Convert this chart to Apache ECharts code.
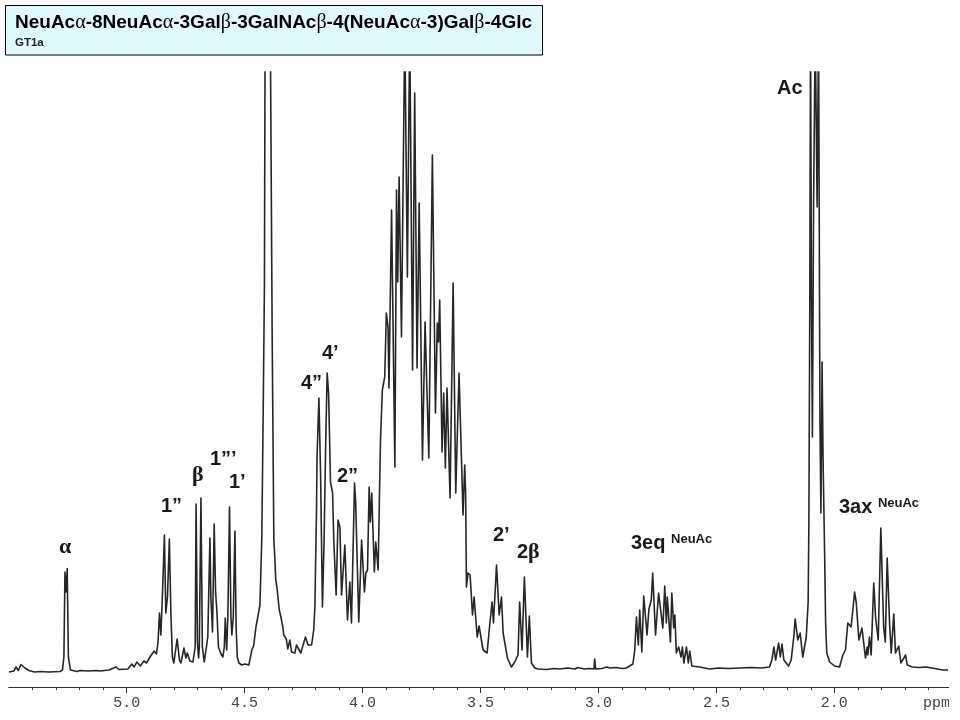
<!DOCTYPE html>
<html><head><meta charset="utf-8">
<style>html,body{margin:0;padding:0;background:#fff}#c{width:960px;height:720px}</style>
<script src="https://cdn.jsdelivr.net/npm/echarts@6/dist/echarts.min.js"></script>
</head><body><div id="c"></div>
<script>
// [chemical shift in ppm, signal height]; values above the axis maximum run off the top of the plot.
const baselineAndAlpha = [[5.499,15],[5.478,16],[5.469,20],[5.459,16.5],[5.448,22.5],[5.44,24],[5.431,19],[5.414,16.5],[5.39,15],[5.367,15.5],[5.33,15],[5.283,15.5],[5.272,17],[5.266,30],[5.2615,115],[5.257,95],[5.252,118.5],[5.247,30],[5.238,17],[5.21,15.5],[5.198,16.5],[5.16,16],[5.13,16.5],[5.113,16],[5.075,17],[5.045,20],[5.033,17.5],[4.995,18]];
const anomeric = [[4.978,23],[4.968,20],[4.957,25],[4.942,21],[4.927,26],[4.916,24],[4.901,30],[4.893,28],[4.884,36],[4.874,33],[4.867,45],[4.861,74],[4.855,52],[4.848,94],[4.84,152],[4.834,74],[4.827,90],[4.819,148],[4.812,70],[4.806,30],[4.8,24],[4.793,23],[4.786,48],[4.776,27],[4.77,24],[4.757,39],[4.749,29],[4.743,34],[4.732,26],[4.719,25],[4.711,24],[4.7095,40],[4.7056,183],[4.7,45],[4.695,29],[4.692,40],[4.685,189],[4.679,40],[4.671,25],[4.664,27],[4.656,50],[4.647,149],[4.643,90],[4.636,55],[4.629,163],[4.623,95],[4.617,74],[4.611,40],[4.6,33],[4.592,30],[4.586,40],[4.582,69],[4.576,37],[4.571,70],[4.564,180],[4.558,70],[4.554,52],[4.548,70],[4.541,156],[4.536,60],[4.531,30],[4.524,24],[4.512,22],[4.499,23],[4.482,22],[4.469,37],[4.461,42],[4.452,60],[4.444,70]];
const waterPeak = [[4.435,82],[4.427,150],[4.421,280],[4.416,400],[4.413,660],[4.391,660],[4.383,347],[4.376,147],[4.372,130],[4.368,107],[4.363,100],[4.353,77],[4.346,70],[4.338,60],[4.334,52],[4.323,48],[4.317,38],[4.308,47],[4.301,35],[4.287,34],[4.28,42],[4.262,34],[4.242,50],[4.231,42],[4.216,42],[4.207,57],[4.202,80]];
const ringProtons = [[4.195,180],[4.193,230],[4.185,289],[4.178,214],[4.17,80],[4.163,147],[4.156,247],[4.15,314],[4.144,294],[4.139,240],[4.136,205],[4.127,194],[4.122,147],[4.112,92],[4.104,167],[4.096,160],[4.089,92],[4.075,142],[4.064,67],[4.054,105],[4.047,64],[4.034,204],[4.029,184],[4.016,65],[4.004,147],[3.992,95],[3.986,114],[3.979,117],[3.972,200],[3.967,165],[3.961,194],[3.95,115],[3.944,145],[3.934,117],[3.924,247],[3.916,297],[3.906,310],[3.899,374],[3.892,360],[3.888,299],[3.877,477],[3.863,220],[3.856,497],[3.851,405],[3.845,510],[3.835,350],[3.821,660],[3.81,410],[3.8,660],[3.788,317],[3.779,594],[3.769,319],[3.76,484],[3.746,227],[3.735,365],[3.719,229],[3.704,532],[3.691,274],[3.683,364],[3.678,345],[3.673,387],[3.663,235],[3.656,294],[3.649,219],[3.642,299],[3.629,189],[3.616,404],[3.605,194],[3.591,314],[3.574,172],[3.567,222],[3.563,194]];
const upfieldRing = [[3.5596,100],[3.553,114],[3.544,112],[3.534,72],[3.527,90],[3.514,50],[3.506,61],[3.499,60],[3.489,37],[3.472,34],[3.461,62],[3.451,85],[3.445,64],[3.432,122],[3.421,72],[3.411,90],[3.404,54],[3.386,29],[3.369,20],[3.355,25],[3.341,32],[3.334,85],[3.324,37],[3.314,110],[3.301,30],[3.293,71],[3.284,24],[3.27,19],[3.256,18],[3.22,17.5],[3.19,18.5],[3.164,18],[3.13,19],[3.1,18],[3.088,19.5],[3.06,18],[3.04,18.5],[3.019,18],[3.016,28],[3.012,18],[2.985,18.5],[2.965,20],[2.952,19],[2.925,19.5],[2.9,18.5],[2.882,19]];
const eqRegion = [[2.854,23],[2.846,37],[2.839,70],[2.831,42],[2.825,77],[2.816,35],[2.808,91],[2.794,52],[2.786,78],[2.776,87],[2.77,114],[2.758,52],[2.745,94],[2.738,95],[2.727,59],[2.719,101],[2.712,64],[2.708,90],[2.695,45],[2.689,94],[2.681,59],[2.676,72],[2.67,34],[2.66,40],[2.65,30],[2.644,40],[2.638,24],[2.627,40],[2.619,24],[2.613,36],[2.604,21],[2.571,20],[2.529,18],[2.49,19],[2.45,18.5],[2.402,19],[2.35,19.5],[2.31,19],[2.275,20]];
const acetylRegion = [[2.265,27],[2.256,40],[2.249,27],[2.236,44],[2.229,30],[2.222,43],[2.214,27],[2.194,21],[2.183,27],[2.172,50],[2.166,68],[2.155,47],[2.145,54],[2.134,30],[2.119,50],[2.111,85],[2.108,164],[2.104,387],[2.101,660],[2.097,387],[2.093,250],[2.088,487],[2.081,660],[2.073,480],[2.067,660],[2.061,267],[2.057,174],[2.052,325],[2.048,230],[2.041,130],[2.037,64],[2.032,34],[2.02,25],[1.999,21],[1.978,20]];
const axRegion = [[1.964,32],[1.953,37],[1.943,64],[1.929,60],[1.914,95],[1.907,84],[1.896,47],[1.883,59],[1.868,29],[1.861,40],[1.858,32],[1.851,50],[1.844,32],[1.833,104],[1.825,69],[1.814,47],[1.803,159],[1.791,60],[1.784,45],[1.776,129],[1.766,64],[1.759,34],[1.748,73],[1.741,34],[1.727,41],[1.718,24],[1.698,32],[1.691,22],[1.669,20],[1.64,19.5],[1.611,20],[1.575,18.5],[1.54,17],[1.532,19],[1.518,17]];
const tickValues = [2, 2.5, 3, 3.5, 4, 4.5, 5];
const titleText = 'NeuAc{g|α}-8NeuAc{g|α}-3Gal{g|β}-3GalNAc{g|β}-4(NeuAc{g|α}-3)Gal{g|β}-4Glc';
const subtitleText = 'GT1a';
const spectrum = [].concat(baselineAndAlpha, anomeric, waterPeak, ringProtons, upfieldRing, eqRegion, acetylRegion, axRegion);

const sans = '"Liberation Sans",Arial,sans-serif';
function note(text, x, y) {
  return {type:'text', left:x, top:y, z:50, silent:true, style:{
    text:text, fill:'#1a1a1a', font:'bold 20px '+sans,
    rich:{
      g:{font:'bold 22px "Liberation Serif",serif', fill:'#1a1a1a'},
      s:{font:'bold 13px '+sans, fill:'#1a1a1a', verticalAlign:'top', padding:[0,0,6,0]}
    }}};
}
const chart = echarts.init(document.getElementById('c'), null, {renderer:'canvas'});
chart.setOption({
  animation:false,
  backgroundColor:'#fff',
  title:{left:15, top:13, itemGap:4, padding:0,
    text:titleText,
    textStyle:{fontFamily:sans, fontWeight:'bold', fontSize:19, lineHeight:20, color:'#000',
      rich:{g:{fontFamily:'"Liberation Serif",serif', fontSize:20, fontWeight:'normal', color:'#000'}}},
    subtext:subtitleText,
    subtextStyle:{fontFamily:sans, fontSize:11.5, fontWeight:'bold', color:'#222', lineHeight:12}
  },
  grid:{left:8.7, right:7.7, top:72, bottom:33},
  xAxis:{type:'value', inverse:true, min:1.5, max:5.5, interval:0.5, splitLine:{show:false},
    axisLine:{show:true, onZero:false, lineStyle:{color:'#333', width:1}},
    axisTick:{show:true, length:6, customValues:tickValues, lineStyle:{color:'#333'}},
    minorTick:{show:true, splitNumber:5, length:3, lineStyle:{color:'#333'}},
    minorSplitLine:{show:false},
    axisLabel:{customValues:tickValues, margin:9, fontFamily:'"Liberation Mono",monospace', fontSize:15, color:'#444',
      formatter:function(v){return v.toFixed(1);}}
  },
  yAxis:{type:'value', min:0, max:615, show:false},
  series:[{type:'line', data:spectrum, showSymbol:false, symbol:'none', smooth:false, clip:true, z:3,
    lineStyle:{color:'#262626', width:1.6, join:'round'}, silent:true}],
  graphic:[
    {type:'rect', z:-1, silent:true, shape:{x:5.5,y:5.5,width:537,height:49.5}, style:{fill:'#E0F9FD', stroke:'#000', lineWidth:1}},
    note('{g|α}', 59, 536),
    note('1”', 161, 496),
    note('{g|β}', 192, 464),
    note('1”’', 210, 449),
    note('1’', 229, 472),
    note('4”', 301, 373),
    note('4’', 322, 343),
    note('2”', 337, 466),
    note('2’', 493, 525),
    note('2{g|β}', 517, 541),
    note('3eq {s|NeuAc}', 631, 533),
    note('Ac', 777, 78),
    note('3ax {s|NeuAc}', 839, 497),
    {type:'text', left:923, top:696, z:50, silent:true, style:{text:'ppm', fill:'#444', font:'15px "Liberation Mono",monospace'}},
    {type:'rect', z:60, silent:true, shape:{x:949,y:675,width:11,height:45}, style:{fill:'#fff'}}
  ]
});
</script></body></html>
